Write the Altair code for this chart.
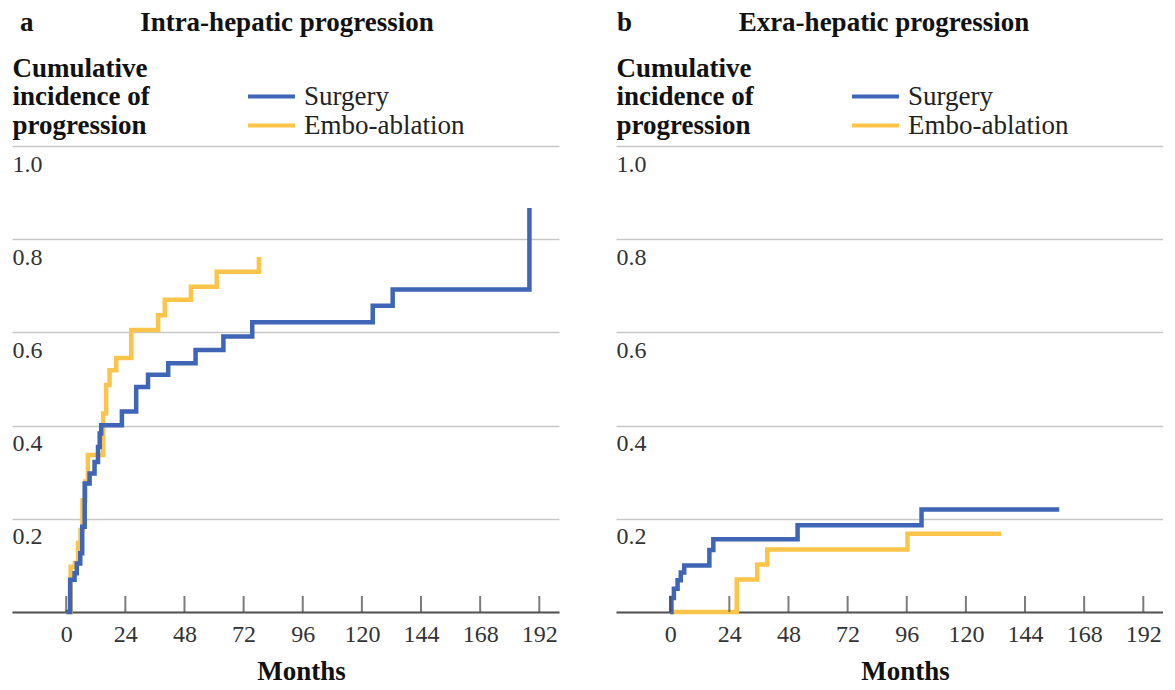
import altair as alt
import pandas as pd

SERIF = "Liberation Serif"
BLUE = "#3F65B6"
YELLOW = "#FCC54A"

GROUPS = ["Surgery", "Embo-ablation"]
MONTH_TICKS = [0, 24, 48, 72, 96, 120, 144, 168, 192]
Y_TICKS = [0, 0.2, 0.4, 0.6, 0.8, 1.0]

# Panel a: intra-hepatic progression (step curves, jump times in months)
a_surg_t = [0, 1.6, 3.4, 4.3, 5.7, 6.5, 7.5, 9.5, 11.5, 12.9, 13.6, 14.2, 22.6, 28.4,
            33.2, 41.4, 52.5, 63.8, 75.5, 124.4, 132.5, 188.0, 188.0]
a_surg_v = [0, 0.069, 0.083, 0.104, 0.126, 0.183, 0.276, 0.297, 0.322, 0.354, 0.383,
            0.401, 0.43, 0.483, 0.509, 0.534, 0.562, 0.591, 0.622, 0.657, 0.692, 0.692, 0.867]
a_embo_t = [0, 1.8, 3.5, 4.8, 5.8, 6.6, 7.8, 8.8, 15.0, 16.2, 17.6, 20.3, 26.4, 37.3,
            40.0, 50.6, 61.1, 78.2, 78.2]
a_embo_v = [0, 0.097, 0.105, 0.148, 0.176, 0.24, 0.28, 0.337, 0.426, 0.487, 0.519, 0.545,
            0.605, 0.637, 0.67, 0.698, 0.73, 0.73, 0.762]

# Panel b: extra-hepatic progression
b_surg_t = [0, 0.5, 1.5, 3.0, 4.3, 5.7, 15.9, 17.5, 51.7, 102.0, 157.9]
b_surg_v = [0, 0.03, 0.05, 0.068, 0.085, 0.10, 0.133, 0.156, 0.186, 0.22, 0.22]
b_embo_t = [0, 27.0, 35.3, 39.4, 96.3, 134.3]
b_embo_v = [0, 0.07, 0.102, 0.134, 0.168, 0.168]

W, H = 547, 466


def make_df(surg_t, surg_v, embo_t, embo_v):
    rows = []
    # Embo-ablation first so that Surgery is drawn on top
    for i, (t, v) in enumerate(zip(embo_t, embo_v)):
        rows.append({"month": t, "value": v, "group": "Embo-ablation", "idx": i})
    for i, (t, v) in enumerate(zip(surg_t, surg_v)):
        rows.append({"month": t, "value": v, "group": "Surgery", "idx": i})
    return pd.DataFrame(rows)


def panel(df, letter, heading, letter_x, head_x):
    xscale = alt.Scale(domain=[-22, 200], nice=False, zero=False)
    yscale = alt.Scale(domain=[0, 1], nice=False)
    lines = alt.Chart(df).mark_line(interpolate="step-after", strokeWidth=4.5).encode(
        x=alt.X("month:Q", scale=xscale, title="Months",
                axis=alt.Axis(values=MONTH_TICKS, ticks=False, grid=False,
                              domainColor="#555555", domainWidth=2,
                              labelFont=SERIF, labelFontSize=24, labelColor="#333333",
                              labelPadding=10, labelFlush=False, labelOverlap=False,
                              titleFont=SERIF, titleFontSize=27,
                              titleFontWeight="bold", titleColor="#111111",
                              titlePadding=12, titleX=289, titleAlign="center")),
        y=alt.Y("value:Q", scale=yscale, title=["Cumulative", "incidence of", "progression"],
                axis=alt.Axis(values=Y_TICKS, grid=True, gridColor="#c8c8c8", gridWidth=1.5,
                              domain=False, ticks=False, tickSize=0,
                              labelAlign="left", labelBaseline="top", labelOffset=6,
                              labelPadding=0, labelFont=SERIF, labelFontSize=24,
                              labelColor="#333333",
                              labelExpr="datum.value == 0 ? '' : format(datum.value, '.1f')",
                              titleAngle=0, titleAlign="left", titleBaseline="top",
                              titleX=0, titleY=-91, titleLineHeight=28.5,
                              titleFont=SERIF, titleFontSize=27, titleFontWeight="bold",
                              titleColor="#111111")),
        color=alt.Color("group:N",
                        scale=alt.Scale(domain=GROUPS, range=[BLUE, YELLOW]),
                        legend=alt.Legend(orient="none", legendX=246, legendY=-63,
                                          title=None, symbolType="M-4,0H4",
                                          symbolStrokeWidth=4, symbolSize=138,
                                          labelFont=SERIF, labelFontSize=27,
                                          labelColor="#222222", labelOffset=19,
                                          labelLimit=0,
                                          rowPadding=1, direction="vertical")),
        order=alt.Order("idx:Q"),
    )
    ticks = alt.Chart(pd.DataFrame({"month": MONTH_TICKS})).mark_tick(
        orient="vertical", color="#444444", thickness=2, size=16
    ).encode(
        x=alt.X("month:Q", scale=xscale,
                axis=alt.Axis(values=MONTH_TICKS, ticks=False, grid=False, domain=True)),
        y=alt.value(H - 8),
    )
    letter_txt = alt.Chart(pd.DataFrame({"s": [letter]})).mark_text(
        font=SERIF, fontSize=27, fontWeight="bold", align="left", baseline="alphabetic",
        color="#111111"
    ).encode(x=alt.value(letter_x), y=alt.value(-115), text="s:N")
    head_txt = alt.Chart(pd.DataFrame({"s": [heading]})).mark_text(
        font=SERIF, fontSize=27, fontWeight="bold", align="center", baseline="alphabetic",
        color="#111111"
    ).encode(x=alt.value(head_x), y=alt.value(-115), text="s:N")
    return alt.layer(lines, ticks, letter_txt, head_txt).properties(
        width=W, height=H, view=alt.ViewBackground(strokeWidth=0, strokeOpacity=0)
    )


df_a = make_df(a_surg_t, a_surg_v, a_embo_t, a_embo_v)
df_b = make_df(b_surg_t, b_surg_v, b_embo_t, b_embo_v)

chart = alt.hconcat(
    panel(df_a, "a", "Intra-hepatic progression", 8, 275),
    panel(df_b, "b", "Exra-hepatic progression", 1, 268),
    spacing=57,
).resolve_legend(color="independent").properties(
    padding={"left": 4, "top": 1, "right": 0, "bottom": 0}
).configure_view(strokeWidth=0, stroke="transparent").configure(background="white")

chart.save("out.html", embed_options={"renderer": "svg", "actions": False})
